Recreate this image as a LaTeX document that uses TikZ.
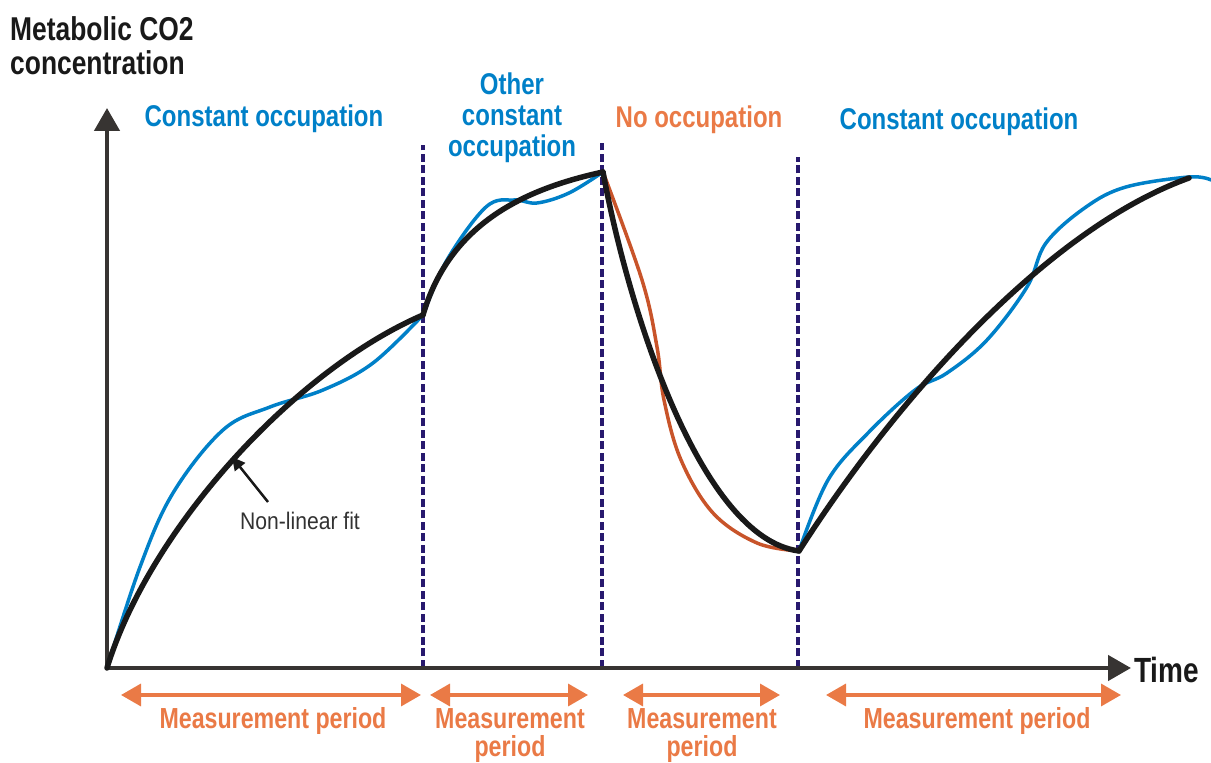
\documentclass[tikz,border=0pt]{standalone}
\usepackage{fontspec}
\setmainfont{Liberation Sans}
\newfontfamily\condfont[FakeStretch=0.8]{Liberation Sans}
\newfontfamily\fitfont[FakeStretch=0.88]{Liberation Sans}
\usetikzlibrary{arrows.meta}
\definecolor{occblue}{RGB}{0,128,200}
\definecolor{measorange}{RGB}{234,122,70}
\definecolor{decayorange}{RGB}{200,84,42}
\definecolor{navy}{RGB}{40,25,110}
\definecolor{fitblack}{RGB}{25,25,25}
\definecolor{axisgray}{RGB}{55,52,50}
\definecolor{textgray}{RGB}{50,50,50}

\begin{document}
\begin{tikzpicture}[x=1pt,y=1pt,
    axisline/.style={draw=axisgray, line width=4.5pt, -{Triangle[length=23pt,width=25pt]}},
    divider/.style={draw=navy, line width=3.5pt, dash pattern=on 8pt off 3.5pt},
    fitcurve/.style={draw=fitblack, line width=5.5pt, line join=round, line cap=round},
    datacurve/.style={line width=3.5pt, line join=round, line cap=round},
    period/.style={draw=measorange, line width=3.5pt, {Triangle[length=20pt,width=22pt]}-{Triangle[length=20pt,width=22pt]}},
    phase/.style={font=\condfont\bfseries\fontsize{30}{31}\selectfont, align=center, inner sep=0pt, anchor=base},
    periodtext/.style={font=\condfont\bfseries\fontsize{29}{28}\selectfont, text=measorange, align=center, inner sep=0pt, anchor=base},
    axistext/.style={font=\condfont\bfseries\fontsize{33}{34}\selectfont, text=fitblack, inner sep=0pt}]
      \useasboundingbox (0,0) rectangle (1211,763);
      % phase boundaries
      \draw[divider] (423,95)--(423,618);
      \draw[divider] (602,95)--(602,620);
      \draw[divider] (798,95)--(798,606);
      % axes
      \coordinate (origin) at (107,95);
      \coordinate (ytip) at (107,655);
      \coordinate (xtip) at (1131,95);
      \draw[axisline] (origin)--(ytip);
      \draw[axisline] (origin)--(xtip);
      \node[axistext, anchor=base west, align=left] (ylabel) at (10,688) {Metabolic CO2\\concentration};
      \node[axistext, anchor=base west, font=\condfont\bfseries\fontsize{35}{36}\selectfont] (xlabel) at (1134,80) {Time};
      % junctions of the fit
      \coordinate (j1) at (423,448);
      \coordinate (j2) at (603,591);
      \coordinate (j3) at (799,212);
      \coordinate (fitend) at (1189,585);
      % measured concentration
      \draw[datacurve, occblue] plot[smooth, tension=0.6] coordinates {(origin) (140,196) (173,270) (223,333) (270,356) (323,373) (373,400) (j1)};
      \draw[datacurve, occblue] plot[smooth, tension=0.6] coordinates {(j1) (447,503) (486,556) (514,563) (537,560) (569,570) (j2)};
      \draw[datacurve, decayorange] plot[smooth, tension=0.6] coordinates {(j2) (642,483) (657,416) (664,363) (681,303) (713,250) (757,220) (j3)};
      \draw[datacurve, occblue] plot[smooth, tension=0.6] coordinates {(j3) (828,283) (868,330) (915,373) (947,390) (987,423) (1027,476) (1046,520) (1086,556) (1126,576) (1189,586) (1211,583)};
      % non-linear fit
      \draw[fitcurve] (origin) .. controls (150,235) and (295,393) .. (j1);
      \draw[fitcurve] (j1) .. controls (450,540) and (525,574) .. (j2);
      \draw[fitcurve] (j2) .. controls (628,455) and (700,225) .. (j3);
      \draw[fitcurve] (j3) .. controls (900,370) and (1050,535) .. (fitend);
      \coordinate (fitpt) at (232,306);
      \coordinate (fittail) at (268,261);
      \node[font=\fitfont\fontsize{24}{25}\selectfont, text=textgray, inner sep=0pt, anchor=base] (fitlabel) at (300,233) {Non-linear fit};
      \draw[line width=2.5pt, fitblack, -{Triangle[length=13pt,width=13pt]}] (fittail)--(fitpt);
      % phases
      \node[phase, text=occblue] (phase1) at (264,636) {Constant occupation};
      \node[phase, text=occblue] (phase2) at (512,606) {Other\\constant\\occupation};
      \node[phase, text=measorange] (phase3) at (699,635) {No occupation};
      \node[phase, text=occblue] (phase4) at (959,633) {Constant occupation};
      % measurement periods
      \coordinate (p1a) at (121,68); \coordinate (p1b) at (421,68);
      \coordinate (p2a) at (430,68); \coordinate (p2b) at (588,68);
      \coordinate (p3a) at (623,68); \coordinate (p3b) at (780,68);
      \coordinate (p4a) at (826,68); \coordinate (p4b) at (1121,68);
      \draw[period] (p1a)--(p1b);
      \draw[period] (p2a)--(p2b);
      \draw[period] (p3a)--(p3b);
      \draw[period] (p4a)--(p4b);
      \node[periodtext] (period1) at (273,34) {Measurement period};
      \node[periodtext] (period2) at (510,6) {Measurement\\period};
      \node[periodtext] (period3) at (702,6) {Measurement\\period};
      \node[periodtext] (period4) at (977,34) {Measurement period};
\end{tikzpicture}
\end{document}
